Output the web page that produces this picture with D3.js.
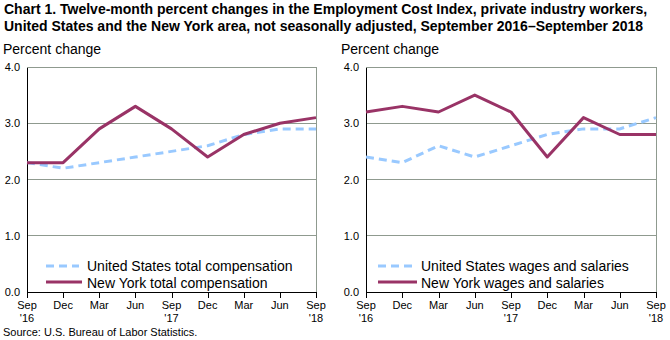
<!DOCTYPE html>
<html>
<head>
<meta charset="utf-8">
<script src="https://cdn.jsdelivr.net/npm/d3@7"></script>
<style>
  body { margin: 0; background: #fff; }
  svg text { font-family: "Liberation Sans", Arial, sans-serif; }
</style>
</head>
<body>
<svg id="chart" width="670" height="340"></svg>
<script>
// quarterly periods, Sep 2016 through Sep 2018
const quarters = ["Sep 2016", "Dec 2016", "Mar 2017", "Jun 2017", "Sep 2017",
                  "Dec 2017", "Mar 2018", "Jun 2018", "Sep 2018"];
const tickMonths = ["Sep", "Dec", "Mar", "Jun", "Sep", "Dec", "Mar", "Jun", "Sep"];
const tickYears = ["'16", "", "", "", "'17", "", "", "", "'18"];
const yTicks = [0, 1, 2, 3, 4];

const usTotalComp = [2.3, 2.2, 2.3, 2.4, 2.5, 2.6, 2.8, 2.9, 2.9];
const nyTotalComp = [2.3, 2.3, 2.9, 3.3, 2.9, 2.4, 2.8, 3.0, 3.1];
const usWages = [2.4, 2.3, 2.6, 2.4, 2.6, 2.8, 2.9, 2.9, 3.1];
const nyWages = [3.2, 3.3, 3.2, 3.5, 3.2, 2.4, 3.1, 2.8, 2.8];

const usColor = "#99c9ff";
const nyColor = "#993366";

const svg = d3.select("#chart");

svg.append("text")
    .attr("x", 4).attr("y", 14)
    .attr("font-size", 14).attr("font-weight", "bold")
    .text("Chart 1. Twelve-month percent changes in the Employment Cost Index, private industry workers,");
svg.append("text")
    .attr("x", 4).attr("y", 31)
    .attr("font-size", 14).attr("font-weight", "bold")
    .text("United States and the New York area, not seasonally adjusted, September 2016\u2013September 2018");

svg.append("text")
    .attr("x", 3).attr("y", 336)
    .attr("font-size", 11)
    .text("Source: U.S. Bureau of Labor Statistics.");

function panel(left, right, usVals, nyVals, usLabel, nyLabel, labelX, legLine, legText) {
    const top = 67, bottom = 292;
    const x = d3.scalePoint().domain(quarters).range([left, right]);
    const y = d3.scaleLinear().domain([0, 4]).range([bottom, top]);

    const g = svg.append("g");

    g.append("text")
        .attr("x", labelX).attr("y", 54)
        .attr("font-size", 14)
        .text("Percent change");

    // horizontal gridlines
    g.selectAll("line.grid").data(yTicks.filter(d => d > 0))
        .enter().append("line")
        .attr("class", "grid")
        .attr("x1", left).attr("x2", right)
        .attr("y1", d => y(d)).attr("y2", d => y(d))
        .attr("stroke", "#8f9a8f").attr("stroke-width", 1)
        .attr("shape-rendering", "crispEdges");

    // right edge of plot area
    g.append("line")
        .attr("x1", right).attr("x2", right)
        .attr("y1", top).attr("y2", bottom)
        .attr("stroke", "#8f9a8f")
        .attr("shape-rendering", "crispEdges");

    // y axis
    const yAxis = g.append("g")
        .attr("transform", `translate(${left},0)`)
        .call(d3.axisLeft(y).tickValues(yTicks).tickFormat(d3.format(".1f")).tickSize(0).tickPadding(7));
    yAxis.select(".domain").attr("stroke", "#000").attr("shape-rendering", "crispEdges");
    yAxis.selectAll("text")
        .attr("font-size", 11).attr("fill", "#000")
        .attr("font-family", "\"Liberation Sans\", Arial, sans-serif");

    // x axis
    const xAxis = g.append("g")
        .attr("transform", `translate(0,${bottom})`)
        .call(d3.axisBottom(x).tickSize(6).tickFormat(""));
    xAxis.select(".domain").attr("stroke", "#000").attr("d", `M${left},0.5H${right}`)
        .attr("shape-rendering", "crispEdges");
    xAxis.selectAll(".tick line").attr("stroke", "#000").attr("shape-rendering", "crispEdges");

    g.selectAll("text.month").data(quarters)
        .enter().append("text")
        .attr("class", "month")
        .attr("x", d => x(d)).attr("y", bottom + 17)
        .attr("text-anchor", "middle").attr("font-size", 11)
        .text((d, i) => tickMonths[i]);
    g.selectAll("text.year").data(quarters)
        .enter().append("text")
        .attr("class", "year")
        .attr("x", d => x(d)).attr("y", bottom + 30)
        .attr("text-anchor", "middle").attr("font-size", 11)
        .text((d, i) => tickYears[i]);

    const line = d3.line()
        .x((d, i) => x(quarters[i]))
        .y(d => y(d));

    g.append("path")
        .datum(usVals)
        .attr("d", line)
        .attr("fill", "none")
        .attr("stroke", usColor).attr("stroke-width", 3)
        .attr("stroke-dasharray", "8,5");

    g.append("path")
        .datum(nyVals)
        .attr("d", line)
        .attr("fill", "none")
        .attr("stroke", nyColor).attr("stroke-width", 3)
        .attr("stroke-linejoin", "round");

    // legend
    g.append("line")
        .attr("x1", legLine[0]).attr("x2", legLine[1])
        .attr("y1", 266).attr("y2", 266)
        .attr("stroke", usColor).attr("stroke-width", 3)
        .attr("stroke-dasharray", "8,5");
    g.append("text")
        .attr("x", legText).attr("y", 271)
        .attr("font-size", 14)
        .text(usLabel);
    g.append("line")
        .attr("x1", legLine[0]).attr("x2", legLine[1] + 3)
        .attr("y1", 282).attr("y2", 282)
        .attr("stroke", nyColor).attr("stroke-width", 3);
    g.append("text")
        .attr("x", legText).attr("y", 288)
        .attr("font-size", 14)
        .text(nyLabel);
}

panel(27, 316, usTotalComp, nyTotalComp,
      "United States total compensation", "New York total compensation", 3, [46, 79], 87);
panel(366, 656, usWages, nyWages,
      "United States wages and salaries", "New York wages and salaries", 341, [378, 414], 421);
</script>
</body>
</html>
